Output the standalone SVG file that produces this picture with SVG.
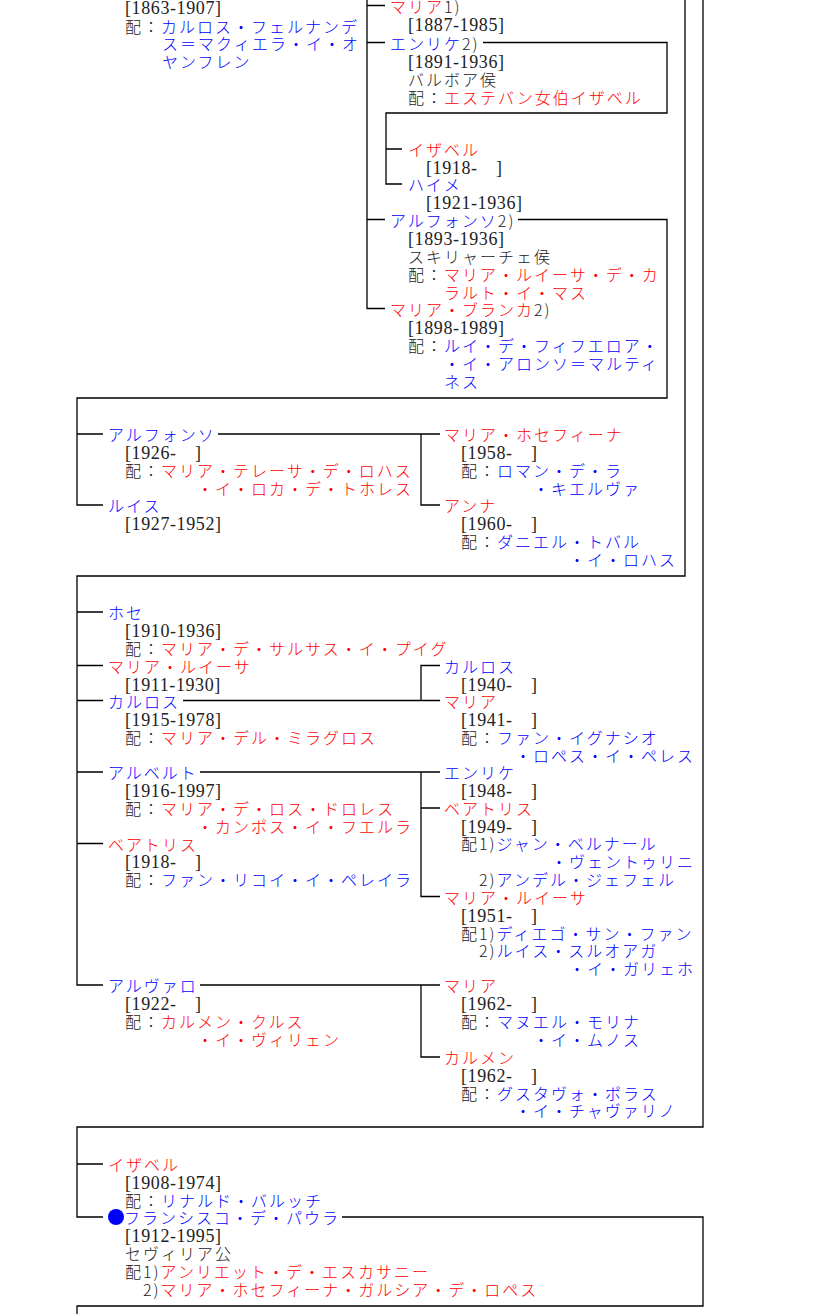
<svg xmlns="http://www.w3.org/2000/svg" width="825" height="1314" viewBox="0 0 825 1314">
<style>
.j{font-family:"Noto Sans CJK JP","Noto Sans CJK SC",sans-serif;font-size:16px;letter-spacing:2px;fill:#222;font-weight:300}
.d{font-family:"Liberation Serif","Noto Sans CJK JP",serif;font-size:18px;letter-spacing:0.6px;fill:#222}
.r{fill:#f00}
.b{fill:#00f}
.k{fill:#222}
.c{fill:none;stroke:#000;stroke-width:1.3}
</style>
<rect width="825" height="1314" fill="#fff"/>
<g id="connectors" class="c">
<path d="M367,0 V308.5 H385 M367,5.5 H385 M367,42.5 H385 M367,219.5 H385"/>
<path d="M483,42.5 H667 V113 H386 V184 H402 M386,149 H402"/>
<path d="M518,219.5 H667 V398 H77 V505 H103 M77,434 H103"/>
<path d="M685,0 V576 H77 V985 H103 M77,612 H103 M77,665.5 H103 M77,700.5 H103 M77,772 H103 M77,843.5 H103"/>
<path d="M218,434 H440 M421,434 V505 H440"/>
<path d="M183,700.5 H440 M421,700.5 V665.5 H440"/>
<path d="M200,772 H440 M421,772 V896.5 H440 M421,808 H440"/>
<path d="M200,985 H440 M421,985 V1057 H440"/>
<path d="M703,0 V1127 H77 V1217 H103 M77,1164 H103"/>
<path d="M342,1217 H703 V1306 H77 V1314"/>
</g>
<g id="n0"><text class="j">
<tspan class="d" x="125" y="14">[1863-1907]</tspan>
<tspan x="125" y="33">配：<tspan class="b">カルロス・フェルナンデ</tspan></tspan>
<tspan class="b" x="162" y="50">ス＝マクィエラ・イ・オ</tspan>
<tspan class="b" x="162" y="68">ヤンフレン</tspan>
</text></g>
<g id="n1"><text class="j">
<tspan x="390" y="13"><tspan class="r">マリア</tspan>1)</tspan>
<tspan class="d" x="408" y="31">[1887-1985]</tspan>
</text></g>
<g id="n2"><text class="j">
<tspan x="390" y="49.5"><tspan class="b">エンリケ</tspan>2)</tspan>
<tspan class="d" x="408" y="67.5">[1891-1936]</tspan>
<tspan x="408" y="85.5">バルボア侯</tspan>
<tspan x="408" y="103.5">配：<tspan class="r">エステバン女伯イザベル</tspan></tspan>
</text></g>
<g id="n3"><text class="j">
<tspan class="r" x="408" y="156">イザベル</tspan>
<tspan class="d" x="426" y="173.5">[1918-<tspan x="496">]</tspan></tspan>
</text></g>
<g id="n4"><text class="j">
<tspan class="b" x="408" y="191">ハイメ</tspan>
<tspan class="d" x="426" y="208.5">[1921-1936]</tspan>
</text></g>
<g id="n5"><text class="j">
<tspan x="390" y="226.5"><tspan class="b">アルフォンソ</tspan>2)</tspan>
<tspan class="d" x="408" y="244.5">[1893-1936]</tspan>
<tspan x="408" y="263">スキリャーチェ侯</tspan>
<tspan x="408" y="281">配：<tspan class="r">マリア・ルイーサ・デ・カ</tspan></tspan>
<tspan class="r" x="444" y="299">ラルト・イ・マス</tspan>
</text></g>
<g id="n6"><text class="j">
<tspan x="390" y="315.5"><tspan class="r">マリア・ブランカ</tspan>2)</tspan>
<tspan class="d" x="408" y="333.5">[1898-1989]</tspan>
<tspan x="408" y="352">配：<tspan class="b">ルイ・デ・フィフエロア・</tspan></tspan>
<tspan class="b" x="444" y="370">・イ・アロンソ＝マルティ</tspan>
<tspan class="b" x="444" y="388">ネス</tspan>
</text></g>
<g id="n7"><text class="j">
<tspan class="b" x="108" y="441">アルフォンソ</tspan>
<tspan class="d" x="125" y="458.5">[1926-<tspan x="195">]</tspan></tspan>
<tspan x="125" y="477">配：<tspan class="r">マリア・テレーサ・デ・ロハス</tspan></tspan>
<tspan class="r" x="197" y="495">・イ・ロカ・デ・トホレス</tspan>
</text></g>
<g id="n8"><text class="j">
<tspan class="b" x="108" y="512">ルイス</tspan>
<tspan class="d" x="125" y="529.5">[1927-1952]</tspan>
</text></g>
<g id="n9"><text class="j">
<tspan class="r" x="444" y="441">マリア・ホセフィーナ</tspan>
<tspan class="d" x="461" y="458.5">[1958-<tspan x="531">]</tspan></tspan>
<tspan x="461" y="477">配：<tspan class="b">ロマン・デ・ラ</tspan></tspan>
<tspan class="b" x="533" y="495">・キエルヴァ</tspan>
</text></g>
<g id="n10"><text class="j">
<tspan class="r" x="444" y="512">アンナ</tspan>
<tspan class="d" x="461" y="529.5">[1960-<tspan x="531">]</tspan></tspan>
<tspan x="461" y="548">配：<tspan class="b">ダニエル・トバル</tspan></tspan>
<tspan class="b" x="569" y="566">・イ・ロハス</tspan>
</text></g>
<g id="n11"><text class="j">
<tspan class="b" x="108" y="619">ホセ</tspan>
<tspan class="d" x="125" y="637">[1910-1936]</tspan>
<tspan x="125" y="655">配：<tspan class="r">マリア・デ・サルサス・イ・プイグ</tspan></tspan>
</text></g>
<g id="n12"><text class="j">
<tspan class="r" x="108" y="672.5">マリア・ルイーサ</tspan>
<tspan class="d" x="125" y="690.5">[1911-1930]</tspan>
</text></g>
<g id="n13"><text class="j">
<tspan class="b" x="108" y="707.5">カルロス</tspan>
<tspan class="d" x="125" y="725.5">[1915-1978]</tspan>
<tspan x="125" y="744">配：<tspan class="r">マリア・デル・ミラグロス</tspan></tspan>
</text></g>
<g id="n14"><text class="j">
<tspan class="b" x="444" y="672.5">カルロス</tspan>
<tspan class="d" x="461" y="690.5">[1940-<tspan x="531">]</tspan></tspan>
</text></g>
<g id="n15"><text class="j">
<tspan class="r" x="444" y="707.5">マリア</tspan>
<tspan class="d" x="461" y="725.5">[1941-<tspan x="531">]</tspan></tspan>
<tspan x="461" y="744">配：<tspan class="b">ファン・イグナシオ</tspan></tspan>
<tspan class="b" x="515" y="762">・ロペス・イ・ペレス</tspan>
</text></g>
<g id="n16"><text class="j">
<tspan class="b" x="108" y="779">アルベルト</tspan>
<tspan class="d" x="125" y="796.5">[1916-1997]</tspan>
<tspan x="125" y="815">配：<tspan class="r">マリア・デ・ロス・ドロレス</tspan></tspan>
<tspan class="r" x="197" y="833">・カンポス・イ・フエルラ</tspan>
</text></g>
<g id="n17"><text class="j">
<tspan class="r" x="108" y="850.5">ベアトリス</tspan>
<tspan class="d" x="125" y="867.5">[1918-<tspan x="195">]</tspan></tspan>
<tspan x="125" y="886">配：<tspan class="b">ファン・リコイ・イ・ペレイラ</tspan></tspan>
</text></g>
<g id="n18"><text class="j">
<tspan class="b" x="444" y="779">エンリケ</tspan>
<tspan class="d" x="461" y="796.5">[1948-<tspan x="531">]</tspan></tspan>
</text></g>
<g id="n19"><text class="j">
<tspan class="r" x="444" y="815">ベアトリス</tspan>
<tspan class="d" x="461" y="832.5">[1949-<tspan x="531">]</tspan></tspan>
<tspan x="461" y="850">配1)<tspan class="b">ジャン・ベルナール</tspan></tspan>
<tspan class="b" x="551" y="868">・ヴェントゥリニ</tspan>
<tspan x="479" y="886">2)<tspan class="b">アンデル・ジェフェル</tspan></tspan>
</text></g>
<g id="n20"><text class="j">
<tspan class="r" x="444" y="903.5">マリア・ルイーサ</tspan>
<tspan class="d" x="461" y="921.5">[1951-<tspan x="531">]</tspan></tspan>
<tspan x="461" y="940">配1)<tspan class="b">ディエゴ・サン・ファン</tspan></tspan>
<tspan x="479" y="957">2)<tspan class="b">ルイス・スルオアガ</tspan></tspan>
<tspan class="b" x="569" y="975">・イ・ガリェホ</tspan>
</text></g>
<g id="n21"><text class="j">
<tspan class="b" x="108" y="992">アルヴァロ</tspan>
<tspan class="d" x="125" y="1009.5">[1922-<tspan x="195">]</tspan></tspan>
<tspan x="125" y="1028">配：<tspan class="r">カルメン・クルス</tspan></tspan>
<tspan class="r" x="197" y="1046">・イ・ヴィリェン</tspan>
</text></g>
<g id="n22"><text class="j">
<tspan class="r" x="444" y="992">マリア</tspan>
<tspan class="d" x="461" y="1009.5">[1962-<tspan x="531">]</tspan></tspan>
<tspan x="461" y="1028">配：<tspan class="b">マヌエル・モリナ</tspan></tspan>
<tspan class="b" x="533" y="1046">・イ・ムノス</tspan>
</text></g>
<g id="n23"><text class="j">
<tspan class="r" x="444" y="1064">カルメン</tspan>
<tspan class="d" x="461" y="1081.5">[1962-<tspan x="531">]</tspan></tspan>
<tspan x="461" y="1100">配：<tspan class="b">グスタヴォ・ポラス</tspan></tspan>
<tspan class="b" x="515" y="1117">・イ・チャヴァリノ</tspan>
</text></g>
<g id="n24"><text class="j">
<tspan class="r" x="108" y="1171">イザベル</tspan>
<tspan class="d" x="125" y="1188.5">[1908-1974]</tspan>
<tspan x="125" y="1207">配：<tspan class="b">リナルド・バルッチ</tspan></tspan>
</text></g>
<g id="n25">
<circle cx="116" cy="1217" r="8" fill="#00f"/>
<text class="j">
<tspan class="b" x="124" y="1224">フランシスコ・デ・パウラ</tspan>
<tspan class="d" x="125" y="1241.5">[1912-1995]</tspan>
<tspan x="125" y="1260">セヴィリア公</tspan>
<tspan x="125" y="1278">配1)<tspan class="r">アンリエット・デ・エスカサニー</tspan></tspan>
<tspan x="143" y="1296">2)<tspan class="r">マリア・ホセフィーナ・ガルシア・デ・ロペス</tspan></tspan>
</text></g>
</svg>
